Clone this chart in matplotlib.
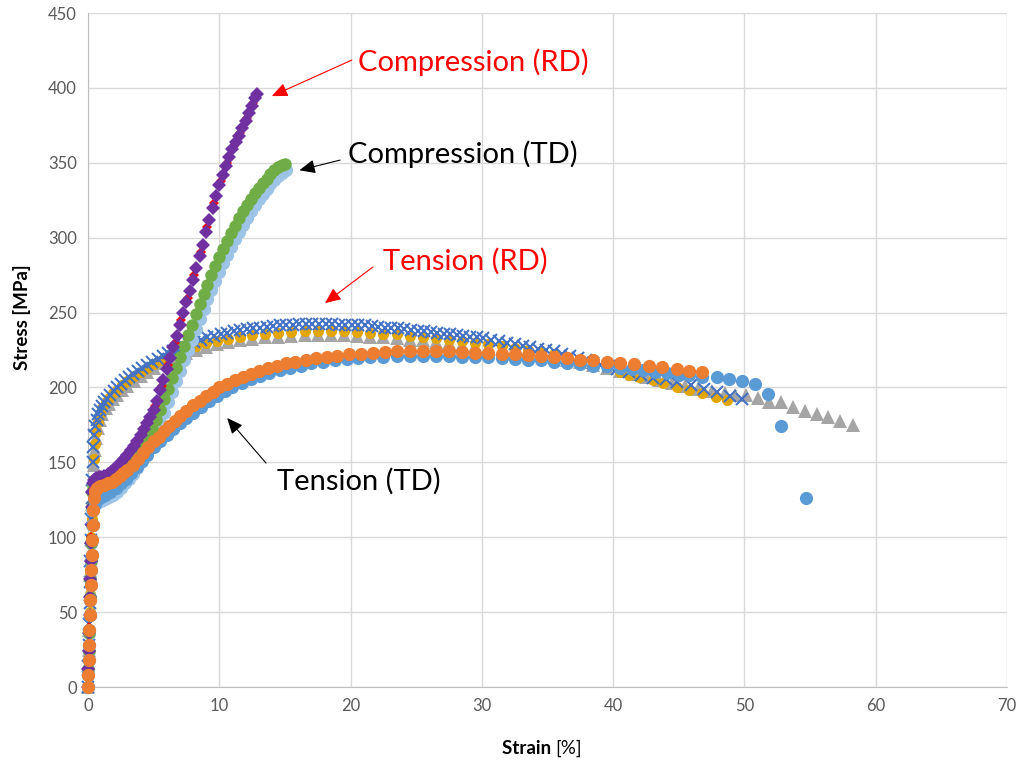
import numpy as np
import matplotlib
matplotlib.use("Agg")
import matplotlib.pyplot as plt

plt.rcParams['font.family'] = ['Lato', 'DejaVu Sans']

# ---- Tension TD ----
ten_td_a_strain = [0, 0.02, 0.05, 0.08, 0.1, 0.13, 0.16, 0.2, 0.24, 0.28, 0.32, 0.36, 0.4, 0.45,
                   0.55, 0.7, 0.9, 1.2, 1.5, 1.8, 2.1, 2.4, 2.7, 3.0, 3.4, 3.8, 4.2, 4.6, 5.0, 5.4,
                   5.8, 6.2, 6.6, 7.0, 7.5, 8.0, 8.5, 9.0, 9.5, 10.0, 10.6, 11.2, 11.8, 12.4, 13.0,
                   13.7, 14.4, 15.1, 15.8, 16.6, 17.4, 18.2, 19.0, 19.9, 20.8, 21.7, 22.6, 23.5,
                   24.5, 25.5, 26.5, 27.5, 28.5, 29.5, 30.5, 31.5, 32.5, 33.5, 34.5, 35.5, 36.5,
                   37.5, 38.5, 39.5, 40.5, 41.6, 42.7, 43.7, 44.9, 45.8, 46.8]
ten_td_a_stress = [0, 8, 18, 28, 38, 48, 58, 68, 78, 88, 98, 108, 118, 126,
                   131, 133, 134, 135, 136, 137, 139, 141, 143, 145, 148, 152, 156, 160, 164, 167,
                   171, 174, 177.5, 181, 184.5, 188, 191, 194, 197, 200, 202.5, 205, 207, 209, 211,
                   213, 214.5, 216, 217, 218.5, 219.5, 220.5, 221, 222, 222.5, 223, 223.5, 224,
                   224, 224, 224, 224, 223.5, 223, 223, 222.5, 222, 221.5, 221, 220, 219.5,
                   218.5, 218, 217, 216, 215.5, 214, 213.5, 212, 211, 210]

ten_td_b_strain = [0, 0.02, 0.05, 0.08, 0.1, 0.13, 0.16, 0.2, 0.24, 0.28, 0.32, 0.36, 0.4,
                   0.5, 0.7, 1.0, 1.3, 1.7, 2.1, 2.5, 2.9, 3.3, 3.7, 4.1, 4.5, 5.0, 5.5, 6.0,
                   6.5, 7.0, 7.5, 8.0, 8.6, 9.2, 9.8, 10.4, 11.0, 11.7, 12.4, 13.1, 13.8, 14.6,
                   15.4, 16.2, 17.0, 17.9, 18.8, 19.7, 20.6, 21.5, 22.5, 23.5, 24.5, 25.5, 26.5,
                   27.5, 28.5, 29.5, 30.5, 31.5, 32.5, 33.5, 34.5, 35.5, 36.5, 37.5, 38.5, 39.5,
                   40.5, 41.4, 42.3, 43.2, 44.1, 45.0, 45.8, 46.8, 47.9, 48.8, 49.8, 50.8, 51.8,
                   52.8, 54.7]
ten_td_b_stress = [0, 8, 18, 28, 38, 48, 58, 68, 78, 88, 98, 108, 118,
                   122, 125, 127, 128, 130, 133, 136, 139, 143, 147, 151, 155, 160, 164, 168,
                   172, 176, 179.5, 183, 187, 191, 194.5, 197.5, 200, 203, 205.5, 207.5, 209.5, 211.5,
                   213, 214.5, 216, 217, 218, 219, 219.5, 220, 220.5, 221, 221, 221, 221,
                   221, 220.5, 220, 220, 219.5, 219, 218.5, 218, 217, 216.5, 215.5, 214.5, 214,
                   213, 212, 211.5, 210.5, 209.5, 208.5, 208, 207, 207, 205.5, 204, 202, 195.5,
                   174, 126]

# ---- Tension RD ----
ten_rd_a_strain = [0, 0.03, 0.06, 0.09, 0.12, 0.15, 0.18, 0.21, 0.24, 0.27, 0.3,
                   0.35, 0.42, 0.5, 0.6, 0.75, 0.9, 1.1, 1.35, 1.6, 1.9, 2.2, 2.6, 3.0, 3.5, 4.0,
                   4.5, 5.0, 5.6, 6.2, 6.8, 7.5, 8.2, 9.0, 9.8, 10.7, 11.6, 12.5, 13.5, 14.5, 15.5,
                   16.5, 17.5, 18.5, 19.5, 20.5, 21.5, 22.5, 23.5, 24.5, 25.5, 26.5, 27.5, 28.5,
                   29.5, 30.5, 31.5, 32.5, 33.5, 34.5, 35.5, 36.5, 37.5, 38.5, 39.5, 40.5, 41.5,
                   42.5, 43.5, 44.5, 45.5, 46.5, 47.5, 48.5, 49.3, 50.1, 51.0, 51.9, 52.8, 53.7,
                   54.6, 55.5, 56.4, 57.3, 58.3]
ten_rd_a_stress = [0, 12, 25, 38, 50, 62, 75, 88, 100, 112, 122,
                   135, 148, 158, 166, 173, 178, 182, 186, 189, 192, 195, 198, 201, 204.5, 207.5,
                   210.5, 213, 216, 218.5, 221, 223, 225, 227, 229, 230.5, 231.5, 232.5, 233.5, 234, 234.5,
                   235, 235, 235, 235, 234.5, 234, 233.5, 233, 232, 231.5, 230.5, 229.5, 228.5,
                   227.5, 226.5, 225.5, 224, 223, 221.5, 220, 218.5, 217, 215, 213, 211, 209,
                   207, 205, 203, 201, 199, 197.5, 196, 195, 195, 193, 190, 190, 187,
                   184, 182, 180, 177.5, 175]

ten_rd_b_strain = [0, 0.03, 0.06, 0.09, 0.12, 0.15, 0.18, 0.21, 0.24, 0.27, 0.3,
                   0.35, 0.42, 0.5, 0.6, 0.75, 0.9, 1.1, 1.35, 1.6, 1.9, 2.2, 2.6, 3.0, 3.5, 4.0,
                   4.5, 5.0, 5.6, 6.2, 6.8, 7.5, 8.2, 9.0, 9.8, 10.7, 11.6, 12.5, 13.5, 14.5, 15.5,
                   16.5, 17.5, 18.5, 19.5, 20.5, 21.5, 22.5, 23.5, 24.5, 25.5, 26.5, 27.5, 28.5,
                   29.5, 30.5, 31.5, 32.5, 33.5, 34.5, 35.5, 36.5, 37.5, 38.5, 39.5, 40.5, 41.2,
                   42.0, 43.0, 43.8, 44.9, 45.8, 46.8, 47.8, 48.7]
ten_rd_b_stress = [0, 12, 25, 38, 50, 62, 75, 88, 100, 112, 122,
                   138, 152, 162, 170, 177, 182, 186, 190, 193, 196, 198.5, 201.5, 204, 207.5, 210.5,
                   213, 215.5, 218.5, 221, 223.5, 225.5, 227.5, 229.5, 231, 232.5, 234, 235, 236, 236.5, 237,
                   237.5, 237.5, 237.5, 237.5, 237, 236.5, 236, 235.5, 234.5, 234, 233, 232, 231,
                   230, 229, 228, 226.5, 225, 223.5, 222, 220, 218, 216, 214, 210.5, 208,
                   207, 205, 203, 200, 198, 196, 193.5, 191.5]

ten_rd_c_strain = [0, 0.03, 0.06, 0.09, 0.12, 0.15, 0.18, 0.21, 0.24, 0.27,
                   0.3, 0.35, 0.4, 0.48, 0.56, 0.65, 0.75, 0.9, 1.05, 1.25, 1.45, 1.7, 1.95, 2.2,
                   2.5, 2.8, 3.1, 3.45, 3.8, 4.15, 4.5, 4.9, 5.3, 5.7, 6.1, 6.5, 6.9, 7.3, 7.7,
                   8.1, 8.6, 9.1, 9.6, 10.1, 10.6, 11.1, 11.6, 12.1, 12.6, 13.1, 13.6, 14.1, 14.6,
                   15.1, 15.6, 16.1, 16.6, 17.1, 17.6, 18.1, 18.6, 19.1, 19.6, 20.1, 20.6, 21.1,
                   21.6, 22.1, 22.6, 23.1, 23.6, 24.1, 24.6, 25.1, 25.6, 26.1, 26.6, 27.1, 27.6,
                   28.1, 28.6, 29.1, 29.6, 30.1, 30.7, 31.3, 31.9, 32.5, 33.1, 33.7, 34.3, 34.9,
                   35.5, 36.1, 36.7, 37.3, 37.9, 38.5, 39.1, 39.7, 40.3, 41.2, 42.1, 43.0, 44.0,
                   44.9, 45.9, 46.9, 47.9, 48.9, 49.8]
ten_rd_c_stress = [0, 14, 28, 42, 56, 70, 84, 98, 112, 126,
                   138, 150, 160, 168, 174, 178, 182, 185, 187.5, 190, 192.5, 195, 197.5, 200,
                   202.5, 205, 207, 209, 211, 213, 215, 217, 219, 221, 223, 224.5, 226, 227.5, 229,
                   230.5, 232, 233.5, 234.5, 235.5, 236.5, 237.5, 238.5, 239, 239.5, 240, 240.5, 241, 241.5,
                   242, 242, 242.5, 242.5, 242.5, 242.5, 242.5, 242.5, 242, 242, 242, 241.5, 241.5,
                   241, 240.5, 240, 240, 239.5, 239, 238.5, 238, 237.5, 237, 236.5, 236, 235.5,
                   235, 234.5, 234, 233.5, 233, 232, 231, 230, 229, 228, 227, 226, 225,
                   224, 222.5, 221, 219.5, 218, 216.5, 215, 214, 212.5, 210, 208.5, 206.5, 205.5,
                   203.5, 201.5, 199, 197, 194.5, 192]

# ---- Compression RD ----
comp_rd_a_strain = [0, 0.05, 0.1, 0.15, 0.2, 0.25, 0.3, 0.35,
                    0.4, 0.7, 1.1, 1.6, 2.1, 2.6, 3.1, 3.6, 4.1, 4.6, 5.1, 5.6, 6.1, 6.6, 7.1,
                    7.6, 8.1, 8.6, 9.1, 9.6, 10.1, 10.6, 11.1, 11.6, 12.1, 12.6, 12.8]
comp_rd_a_stress = [0, 20, 40, 60, 80, 100, 118, 132,
                    137, 139.5, 140.5, 142.5, 146, 151, 156, 162, 169.5, 178, 187.5, 201, 215, 230, 245,
                    260, 275, 290.5, 307, 323, 338, 350, 361, 370, 380, 390, 395]

comp_rd_b_strain = [0, 0.03, 0.06, 0.09, 0.12, 0.15, 0.18, 0.21, 0.24, 0.27, 0.3, 0.33,
                    0.38, 0.45, 0.6, 0.8, 1.0, 1.25, 1.5, 1.75, 2.0, 2.25, 2.5, 2.75, 3.0, 3.25,
                    3.5, 3.75, 4.0, 4.25, 4.5, 4.75, 5.0, 5.25, 5.5, 5.75, 6.0, 6.25, 6.5, 6.75,
                    7.0, 7.25, 7.5, 7.75, 8.0, 8.25, 8.5, 8.75, 9.0, 9.25, 9.5, 9.75, 10.0, 10.25,
                    10.5, 10.75, 11.0, 11.25, 11.5, 11.75, 12.0, 12.25, 12.5, 12.75, 12.9]
comp_rd_b_stress = [0, 12, 24, 36, 48, 60, 72, 84, 96, 108, 120, 130,
                    136, 138.5, 139.5, 140, 140.5, 141, 142, 143.5, 145.5, 147.5, 150, 152.5, 155, 158,
                    161, 164.5, 168, 172, 176, 180.5, 185, 191, 198, 205, 212, 219.5, 227, 234.5,
                    242, 249.5, 257, 264.5, 272, 280, 287.5, 295, 304, 312, 320, 328, 335, 342,
                    348, 354, 359, 364, 368, 373, 378, 383, 388, 393, 396]

# ---- Compression TD ----
comp_td_a_strain = [0, 0.03, 0.06, 0.09, 0.12, 0.15, 0.18, 0.21, 0.24, 0.27, 0.3,
                    0.4, 0.55, 0.75, 1.0, 1.3, 1.6, 1.9, 2.2, 2.5, 2.8, 3.1, 3.4, 3.7, 4.0, 4.3,
                    4.6, 4.9, 5.2, 5.5, 5.8, 6.1, 6.4, 6.7, 7.0, 7.3, 7.6, 7.9, 8.2, 8.5, 8.8,
                    9.1, 9.4, 9.7, 10.0, 10.3, 10.6, 10.9, 11.2, 11.5, 11.8, 12.1, 12.4, 12.7,
                    13.0, 13.3, 13.6, 13.9, 14.2, 14.5, 14.8, 15.1]
comp_td_a_stress = [0, 12, 24, 36, 48, 60, 72, 84, 96, 108, 118,
                    120, 122, 123.5, 124.5, 125.5, 127, 128.5, 130.5, 133, 136, 139, 142.5, 146.5, 150.5, 155,
                    160, 165, 170.5, 176.5, 183, 190, 197, 204, 211, 218, 225, 232, 239, 246, 252.5,
                    259, 265, 271, 277, 283, 288.5, 294, 299, 304, 308.5, 313, 317.5, 321.5,
                    325.5, 329, 332.5, 335.5, 338.5, 341, 343.5, 345.5]

comp_td_b_strain = [0, 0.03, 0.06, 0.09, 0.12, 0.15, 0.18, 0.21, 0.24, 0.27, 0.3, 0.33,
                    0.4, 0.55, 0.75, 1.0, 1.3, 1.6, 1.9, 2.2, 2.5, 2.8, 3.1, 3.4, 3.7, 4.0, 4.3,
                    4.6, 4.9, 5.2, 5.5, 5.8, 6.1, 6.4, 6.7, 7.0, 7.3, 7.6, 7.9, 8.2, 8.5, 8.8,
                    9.1, 9.4, 9.7, 10.0, 10.3, 10.6, 10.9, 11.2, 11.5, 11.8, 12.1, 12.4, 12.7,
                    13.0, 13.3, 13.6, 13.9, 14.2, 14.5, 14.8, 15.0]
comp_td_b_stress = [0, 12, 24, 36, 48, 60, 72, 84, 96, 108, 120, 130,
                    134, 135, 135.5, 136, 137, 138, 139.5, 141, 143, 145, 147.5, 150.5, 154, 158, 162,
                    167, 172, 178, 185, 192, 199, 206, 213, 220, 227.5, 235, 242, 249, 256, 262.5,
                    268.5, 275, 281, 287, 292.5, 298, 303, 308, 313, 317.5, 321.5, 325.5, 329.5,
                    333, 336.5, 339.5, 342.5, 345, 347, 348.5, 349]

# label text, text anchor (strain, stress), arrow tail, arrow tip, colour
labels = ['Compression (RD)', 'Compression (TD)', 'Tension (RD)', 'Tension (TD)']
label_pos = [(20.6, 417), (19.8, 356), (22.5, 284), (14.4, 137.5)]
arrow_tail = [(20.1, 418.6), (19.2, 351.8), (21.7, 280.4), (13.56, 149.5)]
arrow_tip = [(14.0, 394.5), (16.1, 345), (18.05, 256.3), (10.6, 179.6)]
label_colors = ['#FF0000', '#000000', '#FF0000', '#000000']

fig = plt.figure(figsize=(10.21, 7.63), dpi=100)
ax = fig.add_axes([88 / 1021, 1 - 687 / 763, 919 / 1021, 674 / 763])

# tension TD curves go on top, so they are plotted last
series = [
    (ten_rd_a_strain, ten_rd_a_stress, '^', '#A5A5A5', 10.0),
    (ten_rd_b_strain, ten_rd_b_stress, 'o', '#E3A600', 8.0),
    (ten_rd_c_strain, ten_rd_c_stress, 'x', '#4472C4', 8.5),
    (comp_td_a_strain, comp_td_a_stress, 'o', '#9DC3E6', 9.5),
    (comp_td_b_strain, comp_td_b_stress, 'o', '#70AD47', 9.0),
    (comp_rd_a_strain, comp_rd_a_stress, 'D', '#FF0000', 5.5),
    (comp_rd_b_strain, comp_rd_b_stress, 'D', '#7030A0', 7.0),
    (ten_td_b_strain, ten_td_b_stress, 'o', '#5B9BD5', 9.5),
    (ten_td_a_strain, ten_td_a_stress, 'o', '#ED7D31', 9.5),
]
for xs, ys, mk, col, ms in series:
    if mk == 'x':
        ax.plot(xs, ys, ls='none', marker=mk, ms=ms, mew=1.5, color=col, clip_on=False, zorder=3)
    else:
        ax.plot(xs, ys, ls='none', marker=mk, ms=ms, mew=0, color=col, clip_on=False, zorder=3)

ax.set_xlim(0, 70)
ax.set_ylim(0, 450)
ax.set_xticks(np.arange(0, 71, 10))
ax.set_yticks(np.arange(0, 451, 50))
ax.grid(True, color='#D9D9D9', lw=1)
ax.set_axisbelow(True)
for s in ['top', 'right']:
    ax.spines[s].set_visible(False)
for s in ['left', 'bottom']:
    ax.spines[s].set_color('#BFBFBF')
ax.tick_params(length=0, labelsize=12, colors='#595959', pad=8)

ax.set_ylabel('Stress [MPa]', fontsize=13.5, fontweight='bold')
ax.yaxis.set_label_coords(-0.062, 0.549)
xt = ax.get_xaxis_transform()
ax.text(35.6, -0.091, 'Strain ', transform=xt, ha='right', va='center',
        fontsize=13.5, fontweight='bold')
ax.text(35.6, -0.091, '[%]', transform=xt, ha='left', va='center', fontsize=13.5)

for txt, pos, tail, tip, col in zip(labels, label_pos, arrow_tail, arrow_tip, label_colors):
    ax.text(pos[0], pos[1], txt, color=col, fontsize=21, ha='left', va='center')
    ax.annotate('', xy=tip, xytext=tail,
                arrowprops=dict(arrowstyle='-|>,head_length=0.8,head_width=0.35',
                                color=col, lw=0.8, shrinkA=0, shrinkB=0,
                                mutation_scale=12))

fig.savefig('out.png', dpi=100)
